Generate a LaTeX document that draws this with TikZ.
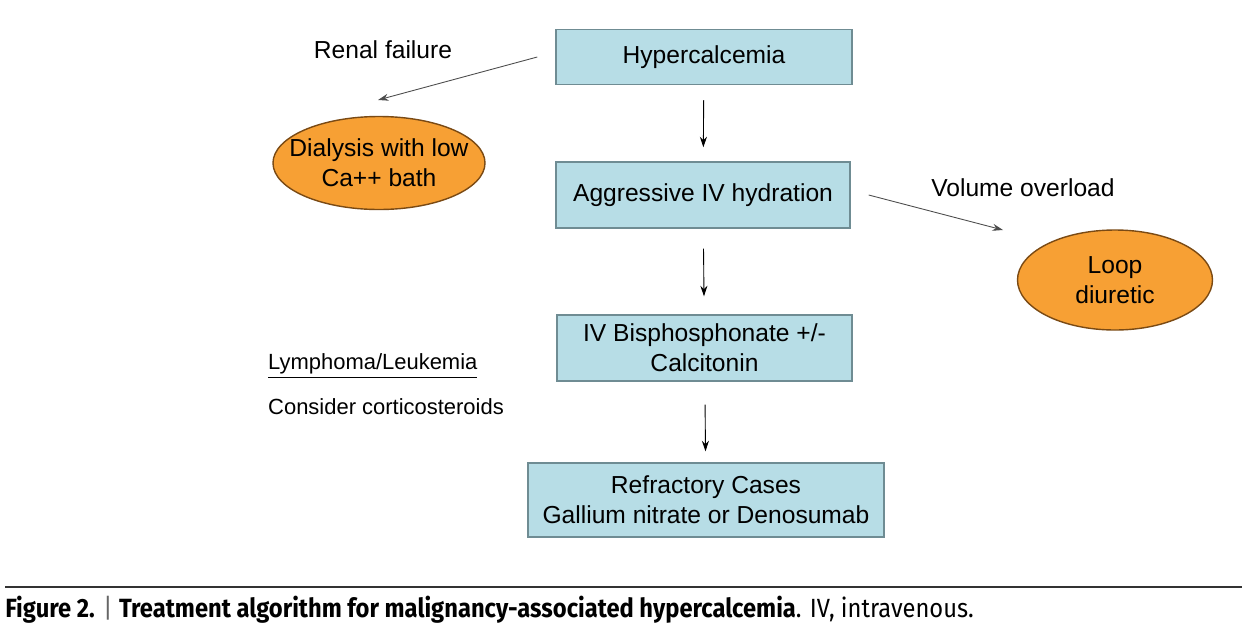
\documentclass[tikz,border=0pt]{standalone}
\usepackage{fontspec}
\setmainfont{Liberation Sans}
\newfontfamily\capfont{Fira Sans}
\usetikzlibrary{arrows.meta,shapes.geometric}

\definecolor{boxfill}{HTML}{B7DDE6}
\definecolor{boxline}{HTML}{6F8C93}
\definecolor{ovalfill}{HTML}{F7A034}
\definecolor{ovalline}{HTML}{7A4A14}

\tikzset{
    stepbox/.style={draw=boxline, fill=boxfill, line width=0.8pt, align=center,
        font=\fontsize{14}{17}\selectfont},
    oval/.style={ellipse, draw=ovalline, fill=ovalfill, line width=0.8pt, inner sep=0pt},
    ovaltext/.style={align=center, font=\fontsize{14}{17}\selectfont},
    note/.style={font=\fontsize{14}{17}\selectfont},
    smallnote/.style={font=\fontsize{12.5}{15}\selectfont, anchor=west},
    link/.style={-{Stealth[length=6pt,width=4pt]}, line width=0.5pt},
    sidelink/.style={-{Stealth[length=6pt,width=4pt]}, line width=0.5pt, draw=black!70}
}

\begin{document}
\begin{tikzpicture}
    \useasboundingbox (0,0) rectangle (24.84,-12.84);

    % main column
    \node[stepbox, minimum width=5.92cm, minimum height=1.1cm]  (hyper) at (14.08,-1.14) {Hypercalcemia};
    \node[stepbox, minimum width=5.88cm, minimum height=1.32cm] (hydr)  at (14.06,-3.9)  {Aggressive IV hydration};
    \node[stepbox, minimum width=5.9cm,  minimum height=1.32cm] (bisph) at (14.09,-6.96) {IV Bisphosphonate +/-\\Calcitonin};
    \node[stepbox, minimum width=7.12cm, minimum height=1.48cm] (refr)  at (14.12,-10.0) {Refractory Cases\\Gallium nitrate or Denosumab};

    \draw[link, shorten <=0.3cm, shorten >=0.28cm] (hyper) -- (hydr);
    \draw[link, shorten <=0.4cm, shorten >=0.36cm] (hydr)  -- (bisph);
    \draw[link, shorten <=0.46cm, shorten >=0.22cm] (bisph) -- (refr);

    % side branches
    \node[oval, minimum width=4.24cm, minimum height=1.86cm] (dial) at (7.58,-3.26) {};
    \node[ovaltext] (dialtext) at (dial.center) {Dialysis with low\\Ca++ bath};
    \node[oval, minimum width=3.9cm,  minimum height=2.0cm]  (loop) at (22.3,-5.6) {};
    \node[ovaltext] (looptext) at (loop.center) {Loop\\diuretic};

    \node[note] (renal)  at (7.66,-1.0)  {Renal failure};
    \node[note] (volume) at (20.46,-3.76) {Volume overload};

    \coordinate (renaltip)  at (7.56,-2.0);
    \coordinate (volumetip) at (20.06,-4.6);
    \draw[sidelink] ([xshift=-0.36cm]hyper.west) -- (renaltip);
    \draw[sidelink] ([xshift=0.36cm]hydr.east) -- (volumetip);

    \node[smallnote] (lymph)    at (5.24,-7.32) {\underline{Lymphoma/Leukemia}};
    \node[smallnote] (consider) at (5.24,-8.14) {Consider corticosteroids};

    % caption
    \draw[black!80, line width=1.1pt] (0.1,-11.74) -- (24.84,-11.74);
    \node[anchor=west, inner sep=0pt] (caption) at (0.1,-12.2)
        {\capfont\fontsize{15}{17}\selectfont\scalebox{0.9}[1]{\textbf{Figure 2.} {\color{black!60}|} \textbf{Treatment algorithm for malignancy-associated hypercalcemia}. IV, intravenous.}};
\end{tikzpicture}
\end{document}
